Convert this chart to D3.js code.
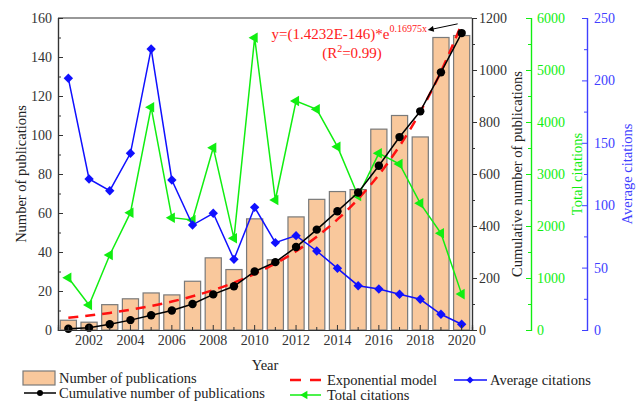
<!DOCTYPE html>
<html>
<head>
<meta charset="utf-8">
<script src="https://cdn.jsdelivr.net/npm/d3@7"></script>
<style>
  body { margin: 0; background: #fff; }
  svg { font-family: "Liberation Serif", "Times New Roman", serif; }
</style>
</head>
<body>
<div class="graph"></div>
<script>
  const years = [2001, 2002, 2003, 2004, 2005, 2006, 2007, 2008, 2009, 2010,
                 2011, 2012, 2013, 2014, 2015, 2016, 2017, 2018, 2019, 2020];
  const publications = [5, 4, 13, 16, 19, 18, 25, 37, 31, 57, 36, 58, 67, 71, 72, 103, 110, 99, 150, 151];
  const cumulative = [5, 9, 22, 38, 57, 75, 100, 137, 168, 225, 261, 319, 386, 457, 529, 632, 742, 841, 991, 1142];
  const modelFit = [46.8, 55.5, 65.7, 77.9, 92.3, 109.4, 129.6, 153.6, 182.0, 215.7,
                    255.6, 302.8, 358.9, 425.3, 504.0, 597.2, 707.7, 838.6, 993.7, 1177.5];
  const totalCitations = [1006, 481, 1442, 2256, 4282, 2160, 2115, 3506, 1763, 5621,
                          2500, 4404, 4244, 3525, 2577, 3397, 3192, 2436, 1859, 690];
  const avgCitations = [201.7, 121, 111.6, 141.6, 225.2, 120.2, 84.1, 93.5, 56.6, 98.3,
                        70, 75.6, 63.3, 49.4, 35.5, 32.9, 28.6, 24.6, 12.6, 4.6];
  const yearTicks = [2002, 2004, 2006, 2008, 2010, 2012, 2014, 2016, 2018, 2020];

  const plotL = 58, plotR = 472, plotT = 18, plotB = 330;
  const greenX = 531, blueX = 587;
  const serif = '"Liberation Serif", "Times New Roman", serif';
  const axisColor = '#333';
  const green = '#11ee11';
  const blue = '#1010ff';

  const data = years.map((y, i) => ({
    year: y, pub: publications[i], cum: cumulative[i], fit: modelFit[i],
    tc: totalCitations[i], ac: avgCitations[i]
  }));

  const x = d3.scaleBand().domain(years).range([plotL, plotR]).paddingInner(0.22).paddingOuter(0.11);
  const cx = d => x(d) + x.bandwidth() / 2;
  const yPub = d3.scaleLinear().domain([0, 160]).range([plotB, plotT]);
  const yCum = d3.scaleLinear().domain([0, 1200]).range([plotB, plotT]);
  const yTc = d3.scaleLinear().domain([0, 6000]).range([plotB, plotT]);
  const yAc = d3.scaleLinear().domain([0, 250]).range([plotB, plotT]);

  const svg = d3.select('.graph').append('svg')
    .attr('width', 640).attr('height', 404)
    .attr('font-family', serif);

  svg.append('rect').attr('width', 640).attr('height', 404).attr('fill', '#fff');

  // bars
  svg.selectAll('.bars').data(data).enter()
    .append('rect')
    .attr('class', 'bars')
    .attr('x', d => x(d.year))
    .attr('width', x.bandwidth())
    .attr('y', d => yPub(d.pub))
    .attr('height', d => plotB - yPub(d.pub))
    .attr('fill', '#f9c89c')
    .attr('stroke', '#7a7a7a')
    .attr('stroke-width', 1.2);

  // total citations
  svg.append('path').datum(data)
    .attr('fill', 'none').attr('stroke', green).attr('stroke-width', 1.5)
    .attr('d', d3.line().x(d => cx(d.year)).y(d => yTc(d.tc)));
  svg.selectAll('.tri').data(data).enter()
    .append('path')
    .attr('d', d3.symbol(d3.symbolTriangle, 48))
    .attr('transform', d => `translate(${cx(d.year)},${yTc(d.tc)}) rotate(-90)`)
    .attr('fill', green);

  // average citations
  svg.append('path').datum(data)
    .attr('fill', 'none').attr('stroke', blue).attr('stroke-width', 1.5)
    .attr('d', d3.line().x(d => cx(d.year)).y(d => yAc(d.ac)));
  svg.selectAll('.dia').data(data).enter()
    .append('path')
    .attr('d', d3.symbol(d3.symbolSquare, 44))
    .attr('transform', d => `translate(${cx(d.year)},${yAc(d.ac)}) rotate(45)`)
    .attr('fill', blue);

  // exponential model
  svg.append('path').datum(data)
    .attr('fill', 'none').attr('stroke', '#ff1010').attr('stroke-width', 2.5)
    .attr('stroke-dasharray', '10,7')
    .attr('d', d3.line().curve(d3.curveMonotoneX).x(d => cx(d.year)).y(d => yCum(d.fit)));

  // cumulative
  svg.append('path').datum(data)
    .attr('fill', 'none').attr('stroke', '#000').attr('stroke-width', 1.5)
    .attr('d', d3.line().x(d => cx(d.year)).y(d => yCum(d.cum)));
  svg.selectAll('.dot').data(data).enter()
    .append('circle')
    .attr('cx', d => cx(d.year)).attr('cy', d => yCum(d.cum)).attr('r', 4.2)
    .attr('fill', '#000');

  // axes
  function styleAxis(g, color) {
    g.attr('font-family', serif).attr('font-size', 14);
    g.selectAll('path, line').attr('stroke', color);
    g.selectAll('text').attr('fill', color);
    g.select('.domain').attr('stroke-width', 1.2);
  }
  const fmt = d3.format('d');

  svg.append('g').attr('transform', `translate(${plotL},0)`)
    .call(d3.axisLeft(yPub).tickValues(d3.range(10, 160, 20)).tickSize(-3).tickFormat(''))
    .call(g => styleAxis(g, axisColor));
  svg.append('g').attr('transform', `translate(${plotL},0)`)
    .call(d3.axisLeft(yPub).ticks(8).tickSize(-5).tickPadding(6).tickFormat(fmt))
    .call(g => styleAxis(g, axisColor));

  svg.append('g').attr('transform', `translate(0,${plotB})`)
    .call(d3.axisBottom(x).tickValues(years.filter(y => y % 2 === 1)).tickSize(-3).tickFormat(''))
    .call(g => styleAxis(g, axisColor));
  svg.append('g').attr('transform', `translate(0,${plotB})`)
    .call(d3.axisBottom(x).tickValues(yearTicks).tickSize(-5).tickPadding(5))
    .call(g => styleAxis(g, axisColor));

  svg.append('line').attr('x1', plotL).attr('x2', plotR).attr('y1', plotT).attr('y2', plotT)
    .attr('stroke', axisColor).attr('stroke-width', 1.2);

  svg.append('g').attr('transform', `translate(${plotR},0)`)
    .call(d3.axisRight(yCum).tickValues(d3.range(100, 1200, 200)).tickSize(3).tickFormat(''))
    .call(g => styleAxis(g, axisColor));
  svg.append('g').attr('transform', `translate(${plotR},0)`)
    .call(d3.axisRight(yCum).tickValues(d3.range(0, 1201, 200)).tickSize(5).tickPadding(2).tickFormat(fmt))
    .call(g => styleAxis(g, axisColor));

  svg.append('g').attr('transform', `translate(${greenX},0)`)
    .call(d3.axisRight(yTc).tickValues(d3.range(500, 6000, 1000)).tickSize(-3).tickFormat(''))
    .call(g => styleAxis(g, green));
  svg.append('g').attr('transform', `translate(${greenX},0)`)
    .call(d3.axisRight(yTc).tickValues(d3.range(0, 6001, 1000)).tickSize(-5).tickPadding(6).tickFormat(fmt))
    .call(g => styleAxis(g, green));

  svg.append('g').attr('transform', `translate(${blueX},0)`)
    .call(d3.axisRight(yAc).tickValues(d3.range(25, 250, 50)).tickSize(-3).tickFormat(''))
    .call(g => styleAxis(g, '#4040ff'));
  svg.append('g').attr('transform', `translate(${blueX},0)`)
    .call(d3.axisRight(yAc).tickValues(d3.range(0, 251, 50)).tickSize(-5).tickPadding(7).tickFormat(fmt))
    .call(g => styleAxis(g, '#4040ff'));

  // axis titles
  function vTitle(xp, text, color) {
    svg.append('text')
      .attr('transform', `translate(${xp},${(plotT + plotB) / 2}) rotate(-90)`)
      .attr('text-anchor', 'middle').attr('dominant-baseline', 'central')
      .attr('fill', color).style('font-size', '14.5px')
      .text(text);
  }
  vTitle(21, 'Number of publications', '#222');
  vTitle(517, 'Cumulative number of publications', '#222');
  vTitle(577, 'Total citations', green);
  vTitle(627, 'Average citations', '#4040ff');

  svg.append('text')
    .attr('x', (plotL + plotR) / 2).attr('y', 365)
    .attr('text-anchor', 'middle').attr('dominant-baseline', 'central')
    .attr('fill', '#222').style('font-size', '14.5px')
    .text('Year');

  // equation annotation
  const eq = svg.append('text').attr('x', 427).attr('y', 39)
    .attr('text-anchor', 'end')
    .attr('fill', '#ff2020').style('font-size', '15px');
  eq.append('tspan').text('y=(1.4232E-146)*e');
  eq.append('tspan').attr('dy', -7).style('font-size', '10px').text('0.16975x');

  const r2 = svg.append('text').attr('x', 352).attr('y', 58)
    .attr('text-anchor', 'middle')
    .attr('fill', '#ff2020').style('font-size', '15px');
  r2.append('tspan').text('(R');
  r2.append('tspan').attr('dy', -6).style('font-size', '10px').text('2');
  r2.append('tspan').attr('dy', 6).text('=0.99)');

  svg.append('defs').append('marker')
    .attr('id', 'arrow').attr('viewBox', '0 0 10 10')
    .attr('refX', 1).attr('refY', 5)
    .attr('markerWidth', 7).attr('markerHeight', 6)
    .attr('orient', 'auto-start-reverse')
    .append('path').attr('d', 'M0,0L10,5L0,10z').attr('fill', '#000');

  svg.append('line')
    .attr('x1', cx(2020) - 4).attr('y1', yCum(modelFit[19]))
    .attr('x2', 433).attr('y2', 29)
    .attr('stroke', '#000').attr('stroke-width', 1)
    .attr('marker-end', 'url(#arrow)');

  // legend
  const lg = svg.append('g').style('font-size', '14.5px').attr('fill', '#222');

  lg.append('rect').attr('x', 23).attr('y', 371).attr('width', 32).attr('height', 14)
    .attr('fill', '#f9c89c').attr('stroke', '#7a7a7a').attr('stroke-width', 1.2);
  lg.append('text').attr('x', 59).attr('y', 378).attr('dominant-baseline', 'central')
    .text('Number of publications');

  lg.append('line').attr('x1', 24).attr('x2', 56).attr('y1', 393).attr('y2', 393)
    .attr('stroke', '#000').attr('stroke-width', 1.5);
  lg.append('circle').attr('cx', 40).attr('cy', 393).attr('r', 3).attr('fill', '#000');
  lg.append('text').attr('x', 59).attr('y', 393).attr('dominant-baseline', 'central')
    .text('Cumulative number of publications');

  lg.append('line').attr('x1', 290).attr('x2', 321).attr('y1', 380).attr('y2', 380)
    .attr('stroke', '#ff1010').attr('stroke-width', 2.5).attr('stroke-dasharray', '11,9');
  lg.append('text').attr('x', 327).attr('y', 380).attr('dominant-baseline', 'central')
    .text('Exponential model');

  lg.append('line').attr('x1', 290).attr('x2', 321).attr('y1', 395).attr('y2', 395)
    .attr('stroke', green).attr('stroke-width', 1.5);
  lg.append('path').attr('d', d3.symbol(d3.symbolTriangle, 30))
    .attr('transform', 'translate(305,395) rotate(-90)').attr('fill', green);
  lg.append('text').attr('x', 327).attr('y', 395).attr('dominant-baseline', 'central')
    .text('Total citations');

  lg.append('line').attr('x1', 454).attr('x2', 487).attr('y1', 380).attr('y2', 380)
    .attr('stroke', blue).attr('stroke-width', 1.5);
  lg.append('path').attr('d', d3.symbol(d3.symbolSquare, 26))
    .attr('transform', 'translate(470,380) rotate(45)').attr('fill', blue);
  lg.append('text').attr('x', 490).attr('y', 380).attr('dominant-baseline', 'central')
    .text('Average citations');
</script>
</body>
</html>
